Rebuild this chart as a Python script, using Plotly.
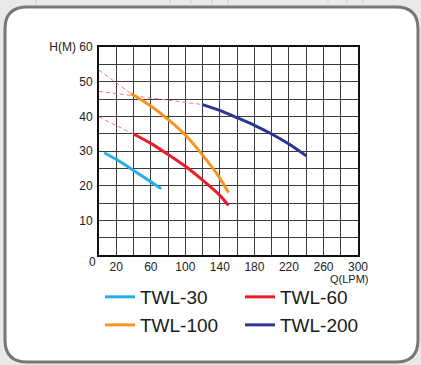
import plotly.graph_objects as go

# ---- data ----
twl30_q = [6, 20, 40, 60, 72]
twl30_h = [29.5, 27.6, 24.4, 21.1, 19.1]

twl60_q = [40, 60, 80, 100, 120, 140, 150]
twl60_h = [34.9, 32.2, 29.0, 25.6, 21.6, 17.2, 14.3]
twl60_ext_q = [0, 40]
twl60_ext_h = [39.8, 34.9]

twl100_q = [37, 60, 80, 100, 120, 140, 150]
twl100_h = [46.6, 43.0, 39.1, 34.6, 28.8, 22.2, 18.0]
twl100_ext_q = [0, 37]
twl100_ext_h = [53.3, 46.6]

twl200_q = [120, 140, 160, 180, 200, 220, 240]
twl200_h = [43.4, 41.7, 39.6, 37.4, 34.9, 32.0, 28.6]
twl200_ext_q = [0, 120]
twl200_ext_h = [47.2, 43.4]

x_ticks = [20, 60, 100, 140, 180, 220, 260, 300]
y_ticks = [10, 20, 30, 40, 50, 60]
y_ticktext = ["10", "20", "30", "40", "50", "H(M) 60"]

names = ["TWL-30", "TWL-60", "TWL-100", "TWL-200"]
colors = ["#25AEE8", "#EC1C2A", "#F7941D", "#2B3592"]
dash_color = "#F27A84"

FONT = "Liberation Sans, Arial, sans-serif"

fig = go.Figure()

# dashed extensions
for q, h in [(twl60_ext_q, twl60_ext_h), (twl100_ext_q, twl100_ext_h), (twl200_ext_q, twl200_ext_h)]:
    fig.add_trace(go.Scatter(x=q, y=h, mode="lines", showlegend=False, hoverinfo="skip",
                             line=dict(color=dash_color, width=1, dash="4px,3px")))

series = [(twl30_q, twl30_h), (twl60_q, twl60_h), (twl100_q, twl100_h), (twl200_q, twl200_h)]
legend_ids = ["legend", "legend2", "legend3", "legend4"]
for (q, h), n, c, lg in zip(series, names, colors, legend_ids):
    fig.add_trace(go.Scatter(x=q, y=h, mode="lines", name=n, legend=lg,
                             line=dict(color=c, width=3, shape="spline", smoothing=0.6)))

W, H = 421, 365
L, R, T, B = 99, 358, 47, 255
pw, ph = R - L, B - T
def px(x):
    return (x - L) / pw
def py(y):
    return (B - y) / ph

# rounded frame path in paper coords
x0, x1, y0, y1, r = 5, 418, 7, 362, 22
def P(x, y):
    return f"{px(x):.5f},{py(y):.5f}"
path = (f"M{P(x0+r,y0)} L{P(x1-r,y0)} Q{P(x1,y0)} {P(x1,y0+r)} L{P(x1,y1-r)} "
        f"Q{P(x1,y1)} {P(x1-r,y1)} L{P(x0+r,y1)} Q{P(x0,y1)} {P(x0,y1-r)} "
        f"L{P(x0,y0+r)} Q{P(x0,y0)} {P(x0+r,y0)} Z")
shapes = [dict(type="path", path=path, xref="paper", yref="paper", layer="below",
               fillcolor="white", line=dict(color="#777777", width=3))]
for vx in [36, 170, 191, 212, 228, 328, 347, 363]:
    shapes.append(dict(type="line", xref="paper", yref="paper", x0=px(vx), x1=px(vx),
                       y0=py(0), y1=py(6), layer="below", line=dict(color="#cfcfcf", width=1)))

def leg(xpix, ypix):
    return dict(orientation="v", xanchor="left", yanchor="middle", x=px(xpix), y=py(ypix),
                font=dict(family=FONT, size=19, color="#1a1a1a"),
                bgcolor="rgba(0,0,0,0)", borderwidth=0,
                itemclick=False, itemdoubleclick=False)

fig.update_layout(
    width=W, height=H,
    margin=dict(l=L, r=W - R, t=T, b=H - B, pad=0),
    paper_bgcolor="#e9e9e9",
    plot_bgcolor="white",
    font=dict(family=FONT, size=12, color="#222222"),
    shapes=shapes,
    xaxis=dict(range=[0, 300], tickvals=x_ticks, ticks="", showgrid=True,
               gridcolor="#3a3a3a", gridwidth=1.2,
               minor=dict(tick0=0, dtick=20, showgrid=True, gridcolor="#3a3a3a", gridwidth=1.2),
               showline=True, linecolor="#111111", linewidth=2, mirror=True,
               zeroline=False, fixedrange=True, tickfont=dict(size=12)),
    yaxis=dict(range=[0, 60], tickvals=y_ticks, ticktext=y_ticktext, ticks="", showgrid=True,
               gridcolor="#3a3a3a", gridwidth=1.2,
               minor=dict(tick0=0, dtick=5, showgrid=True, gridcolor="#3a3a3a", gridwidth=1.2),
               showline=True, linecolor="#111111", linewidth=2, mirror=True,
               zeroline=False, fixedrange=True, tickfont=dict(size=12), ticklabelstandoff=2),
    legend=leg(100, 297),
    legend2=leg(240, 297),
    legend3=leg(100, 325),
    legend4=leg(240, 325),
    annotations=[
        dict(text="0", xref="paper", yref="paper", x=px(92.5), y=py(262), showarrow=False,
             xanchor="center", yanchor="middle", font=dict(size=12)),
        dict(text="Q(LPM)", xref="paper", yref="paper", x=px(371), y=py(279), showarrow=False,
             xanchor="right", yanchor="middle", font=dict(size=11)),
    ],
)

fig.write_html("out.html", config={"displayModeBar": False},
               post_script="document.body.style.margin='0';document.body.style.overflow='hidden';")
